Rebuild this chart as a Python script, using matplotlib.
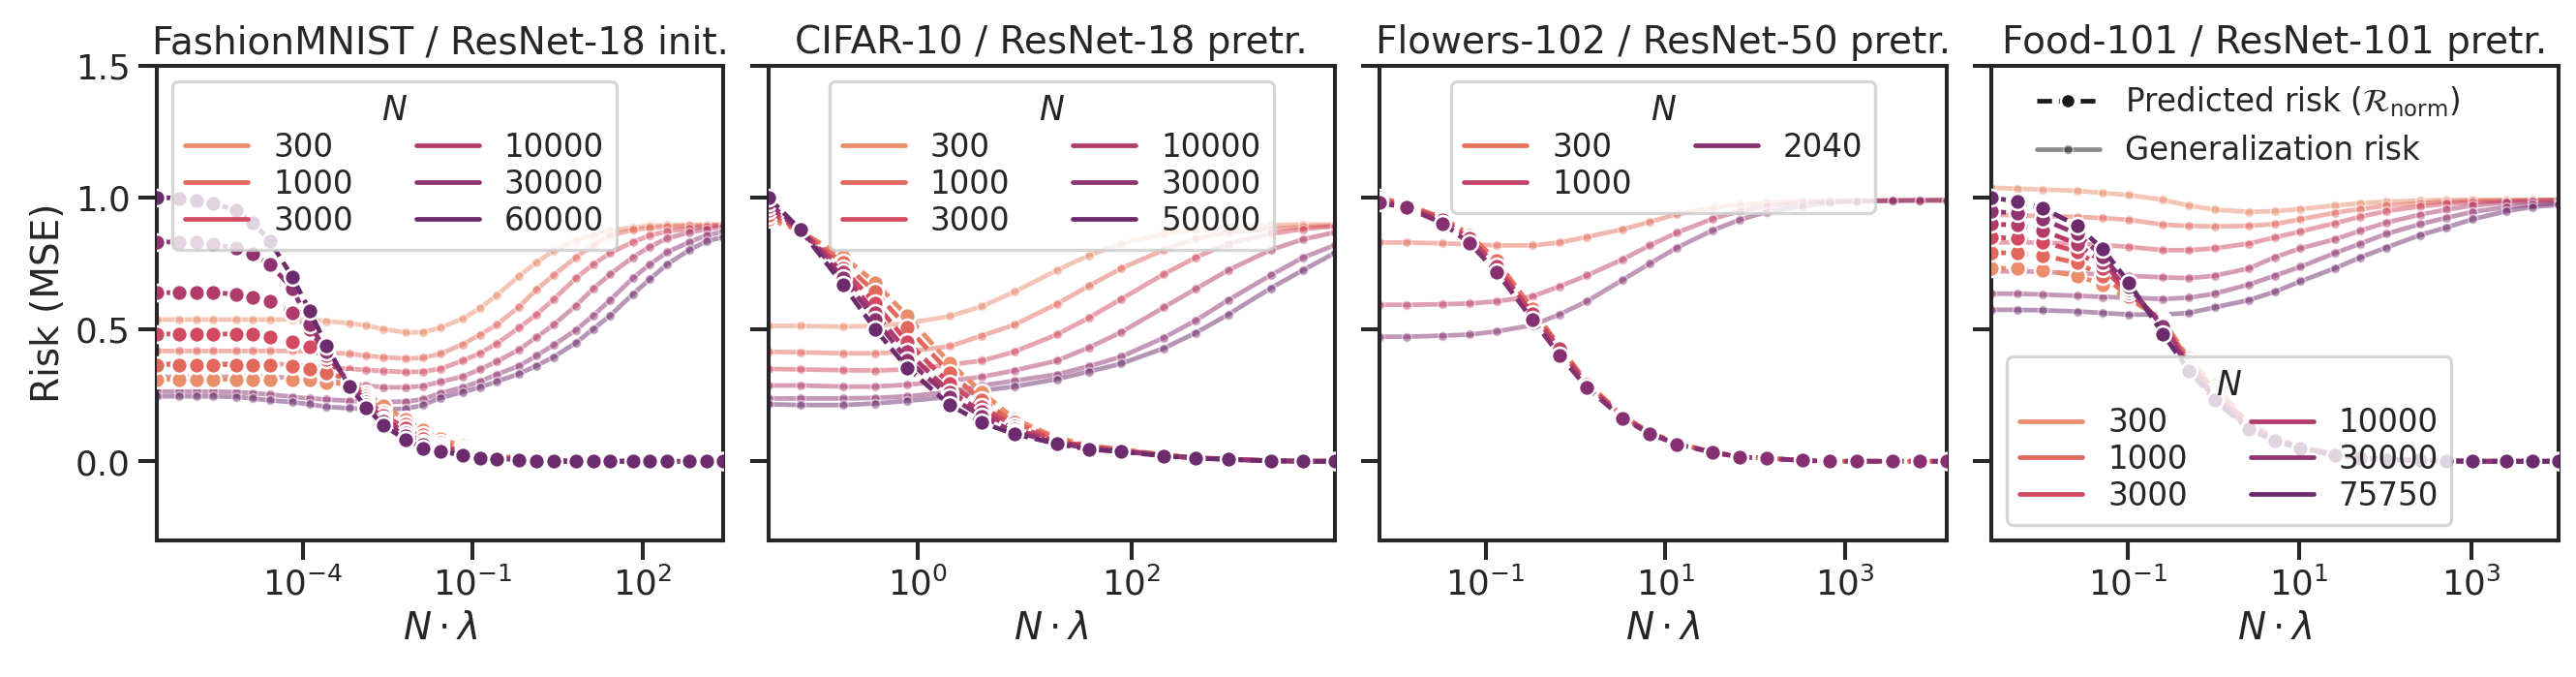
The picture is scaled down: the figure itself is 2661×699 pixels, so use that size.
import matplotlib
matplotlib.use("Agg")
import matplotlib.pyplot as plt
from matplotlib.lines import Line2D
from matplotlib.ticker import NullLocator
import seaborn as sns

# --- data ---
FMNIST_N = [300, 1000, 3000, 10000, 30000, 60000]
FMNIST_X = [2.667e-7, 6.667e-7, 1.333e-6, 2.667e-6, 6.667e-6, 1.333e-5, 2.667e-5,
            6.667e-5, 1.333e-4, 2.667e-4, 6.667e-4, 1.333e-3, 2.667e-3, 6.667e-3,
            1.333e-2, 2.667e-2, 6.667e-2, 0.1333, 0.2667, 0.6667, 1.333, 2.667,
            6.667, 13.33, 26.67, 66.67, 133.3, 266.7, 666.7, 1333, 2667]
FMNIST_GEN = [
    [.537, .537, .537, .537, .537, .537, .537, .537, .537, .531, .523, .514, .501, .488, .489, .506,
     .540, .580, .629, .703, .754, .797, .837, .858, .874, .886, .893, .895, .896, .897, .897],
    [.418, .418, .418, .418, .418, .418, .418, .418, .415, .413, .407, .400, .394, .389, .392, .407,
     .443, .479, .517, .586, .651, .705, .773, .819, .856, .877, .884, .889, .892, .894, .895],
    [.370, .370, .370, .370, .370, .370, .370, .365, .360, .355, .350, .346, .342, .338, .340, .350,
     .381, .409, .446, .507, .556, .613, .694, .746, .789, .831, .856, .871, .883, .890, .895],
    [.320, .320, .320, .320, .320, .320, .320, .315, .310, .305, .296, .287, .280, .280, .285, .301,
     .321, .348, .378, .424, .470, .517, .590, .654, .709, .773, .813, .844, .868, .880, .889],
    [.264, .264, .264, .264, .262, .258, .253, .244, .238, .234, .229, .226, .225, .226, .235, .258,
     .280, .302, .329, .362, .400, .440, .498, .552, .611, .694, .746, .792, .831, .856, .871],
    [.246, .246, .246, .246, .244, .238, .231, .224, .216, .206, .201, .198, .197, .199, .213, .240,
     .262, .280, .302, .332, .362, .395, .449, .501, .552, .633, .690, .746, .801, .834, .850],
]
FMNIST_PRED = [
    [.311, .311, .311, .311, .311, .311, .311, .311, .311, .300, .290, .258, .210, .158, .118, .085,
     .058, .037, .022, .013, .007, .003, .001, 0, 0, 0, 0, 0, 0, 0, 0],
    [.366, .366, .366, .366, .366, .366, .366, .360, .348, .335, .310, .248, .185, .140, .100, .070,
     .047, .030, .018, .010, .005, .002, 0, 0, 0, 0, 0, 0, 0, 0, 0],
    [.482, .482, .482, .482, .482, .482, .470, .452, .433, .385, .305, .237, .175, .125, .085, .060,
     .040, .025, .015, .008, .004, .002, 0, 0, 0, 0, 0, 0, 0, 0, 0],
    [.639, .639, .639, .639, .633, .621, .605, .562, .500, .400, .300, .225, .160, .108, .072, .052,
     .034, .020, .012, .007, .003, .001, 0, 0, 0, 0, 0, 0, 0, 0, 0],
    [.831, .831, .829, .822, .808, .785, .746, .654, .520, .415, .290, .215, .150, .095, .062, .045,
     .028, .017, .010, .006, .003, .001, 0, 0, 0, 0, 0, 0, 0, 0, 0],
    [1.0, .997, .988, .978, .951, .905, .834, .697, .571, .436, .284, .204, .136, .081, .050, .038,
     .023, .013, .009, .005, .002, 0, 0, 0, 0, 0, 0, 0, 0, 0, 0],
]

CIFAR_N = [300, 1000, 3000, 10000, 30000, 50000]
CIFAR_X = [0.04, 0.08, 0.2, 0.4, 0.8, 2, 4, 8, 20, 40, 80, 200, 400, 800, 2000, 4000, 8000]
CIFAR_GEN = [
    [.513, .513, .510, .513, .523, .550, .587, .642, .724, .780, .825, .862, .880, .890, .895, .897, .898],
    [.415, .413, .409, .409, .415, .436, .476, .517, .596, .665, .731, .801, .844, .868, .880, .888, .893],
    [.350, .348, .345, .344, .348, .366, .381, .415, .480, .544, .615, .709, .773, .825, .862, .880, .891],
    [.287, .287, .283, .283, .290, .305, .320, .344, .381, .431, .489, .583, .654, .724, .801, .841, .868],
    [.238, .238, .238, .240, .246, .262, .287, .305, .329, .360, .396, .468, .534, .611, .705, .772, .819],
    [.216, .213, .213, .219, .229, .244, .268, .283, .311, .340, .370, .428, .487, .556, .656, .724, .790],
]
CIFAR_PRED = [
    [.920, .872, .776, .678, .550, .372, .262, .160, .090, .060, .045, .025, .014, .008, .002, 0, 0],
    [.935, .874, .752, .642, .507, .335, .231, .146, .085, .057, .044, .024, .013, .008, .002, 0, 0],
    [.950, .876, .731, .599, .452, .293, .207, .133, .080, .054, .042, .023, .013, .008, .002, 0, 0],
    [.965, .878, .715, .562, .415, .262, .189, .121, .076, .051, .040, .022, .012, .007, .002, 0, 0],
    [.980, .878, .695, .538, .384, .244, .170, .111, .070, .048, .038, .021, .012, .007, .002, 0, 0],
    [1.0, .878, .670, .501, .354, .213, .146, .103, .066, .045, .036, .020, .011, .007, .001, 0, 0],
]

FLOWERS_N = [300, 1000, 2040]
FLOWERS_X = [6.667e-3, 1.333e-2, 3.333e-2, 6.667e-2, 0.1333, 0.3333, 0.6667, 1.333, 3.333,
             6.667, 13.33, 33.33, 66.67, 133.3, 333.3, 666.7, 1333, 3333, 6667, 13333]
FLOWERS_GEN = [
    [.829, .829, .826, .822, .818, .818, .829, .850, .879, .907, .936, .961, .972, .980, .985, .987, .987, .989, .989, .989],
    [.593, .593, .595, .598, .606, .625, .663, .704, .765, .818, .866, .919, .948, .967, .980, .985, .987, .989, .989, .989],
    [.472, .472, .476, .480, .492, .516, .557, .606, .687, .749, .809, .875, .915, .945, .967, .980, .985, .987, .989, .989],
]
FLOWERS_PRED = [
    [1.0, .972, .923, .858, .760, .577, .435, .300, .172, .110, .069, .035, .018, .012, .003, 0, 0, 0, 0, 0],
    [.990, .968, .915, .845, .739, .560, .425, .292, .168, .107, .067, .034, .017, .011, .003, 0, 0, 0, 0, 0],
    [.980, .961, .902, .826, .717, .537, .402, .280, .163, .104, .065, .033, .016, .011, .003, 0, 0, 0, 0, 0],
]

FOOD_N = [300, 1000, 3000, 10000, 30000, 75750]
FOOD_X = [2.58e-3, 5.15e-3, 1.03e-2, 2.58e-2, 5.15e-2, 0.103, 0.258, 0.515, 1.03, 2.58, 5.15,
          10.3, 25.8, 51.5, 103, 258, 515, 1030, 2580, 5150, 10300]
FOOD_GEN = [
    [1.037, 1.033, 1.030, 1.025, 1.017, 1.009, .991, .969, .954, .945, .948, .956, .969, .978, .984, .988, .991, .991, .991, .991, .991],
    [.935, .932, .930, .926, .922, .915, .897, .892, .890, .892, .899, .917, .942, .956, .969, .978, .984, .987, .988, .990, .990],
    [.830, .830, .828, .825, .819, .813, .800, .800, .807, .825, .848, .871, .902, .927, .948, .966, .976, .982, .986, .988, .990],
    [.720, .720, .718, .712, .708, .703, .697, .694, .703, .731, .773, .807, .841, .874, .905, .935, .954, .969, .981, .984, .988],
    [.635, .635, .632, .627, .623, .620, .615, .620, .635, .670, .703, .737, .789, .825, .862, .899, .923, .945, .964, .972, .978],
    [.574, .574, .572, .568, .562, .556, .556, .562, .583, .611, .642, .682, .731, .773, .810, .858, .886, .917, .948, .964, .972],
]
FOOD_PRED = [
    [.731, .731, .724, .703, .670, .617, .535, .390, .286, .145, .090, .055, .028, .014, .007, .003, .001, 0, 0, 0, 0],
    [.791, .789, .780, .752, .703, .626, .530, .380, .272, .140, .088, .054, .027, .014, .007, .003, .001, 0, 0, 0, 0],
    [.850, .844, .831, .795, .731, .638, .525, .372, .260, .135, .086, .052, .026, .013, .006, .003, .001, 0, 0, 0, 0],
    [.899, .895, .874, .825, .752, .650, .520, .365, .250, .130, .084, .051, .025, .013, .006, .003, .001, 0, 0, 0, 0],
    [.948, .939, .917, .862, .776, .662, .510, .355, .240, .126, .081, .050, .024, .012, .006, .003, .001, 0, 0, 0, 0],
    [1.0, .984, .960, .893, .804, .678, .482, .344, .231, .121, .078, .048, .023, .012, .006, .003, .001, 0, 0, 0, 0],
]

TITLES = ["FashionMNIST / ResNet-18 init.", "CIFAR-10 / ResNet-18 pretr.",
          "Flowers-102 / ResNet-50 pretr.", "Food-101 / ResNet-101 pretr."]
XTICKS = [[1e-4, 1e-1, 1e2], [1e0, 1e2], [1e-1, 1e1, 1e3], [1e-1, 1e1, 1e3]]

# --- style ---
sns.set_theme(context="talk", style="ticks")
plt.rcParams["text.color"] = ".15"

LW = 2.2
DASH = (3.2, 1.5)

panels = [
    (FMNIST_N, FMNIST_X, FMNIST_GEN, FMNIST_PRED),
    (CIFAR_N, CIFAR_X, CIFAR_GEN, CIFAR_PRED),
    (FLOWERS_N, FLOWERS_X, FLOWERS_GEN, FLOWERS_PRED),
    (FOOD_N, FOOD_X, FOOD_GEN, FOOD_PRED),
]

DPI = 156
fig, axes = plt.subplots(1, 4, figsize=(2661.4 / DPI, 699.4 / DPI), dpi=DPI, sharey=True)
fig.subplots_adjust(left=0.0608, right=0.9929, top=0.9027, bottom=0.2017, wspace=0.0787)

leg_kw = dict(title=r"$N$", ncol=2, fontsize=15, title_fontsize=16, labelspacing=0.15)

for i, (ax, (ns, xs, gen, pred)) in enumerate(zip(axes, panels)):
    colors = sns.color_palette("flare", len(ns))

    # generalization risk: faint solid lines, small dots
    for ys, c in zip(gen, colors):
        ax.plot(xs, ys, color=c, lw=LW, alpha=0.5, marker="o", ms=4.5,
                mec="w", mew=0.8, zorder=2)
    # predicted risk: dashed, big dots, darker N drawn on top
    for ys, c in zip(pred, colors):
        ax.plot(xs, ys, color=c, lw=LW, dashes=DASH, marker="o", ms=7.8,
                mec="w", mew=1.2, zorder=3)

    ax.set_xscale("log")
    ax.set_xlim(xs[0], xs[-1])
    ax.set_xticks(XTICKS[i])
    ax.xaxis.set_minor_locator(NullLocator())
    ax.set_ylim(-0.3, 1.5)
    ax.set_yticks([0.0, 0.5, 1.0, 1.5])
    ax.set_title(TITLES[i], fontsize=18)
    ax.set_xlabel(r"$N \cdot \lambda$", fontsize=18)

    handles = [Line2D([], [], color=c, lw=LW) for c in colors]
    labels = [str(n) for n in ns]
    if i == 3:
        style_handles = [
            Line2D([], [], color="k", lw=LW, dashes=DASH, marker="o", ms=7, mec="w", mew=1.2),
            Line2D([], [], color="k", lw=LW, alpha=0.5, marker="o", ms=4.5, mec="w", mew=0.8),
        ]
        leg_style = ax.legend(style_handles,
                              [r"Predicted risk ($\mathcal{R}_{\mathrm{norm}}$)", "Generalization risk"],
                              loc="upper left", bbox_to_anchor=(0.03, 1.02), frameon=False,
                              fontsize=15)
        ax.add_artist(leg_style)
        ax.legend(handles, labels, loc="lower left", **leg_kw)
    else:
        loc = "upper left" if i == 0 else "upper center"
        ax.legend(handles, labels, loc=loc, **leg_kw)

axes[0].set_ylabel("Risk (MSE)", fontsize=18)

fig.savefig("out.png", dpi=DPI)
